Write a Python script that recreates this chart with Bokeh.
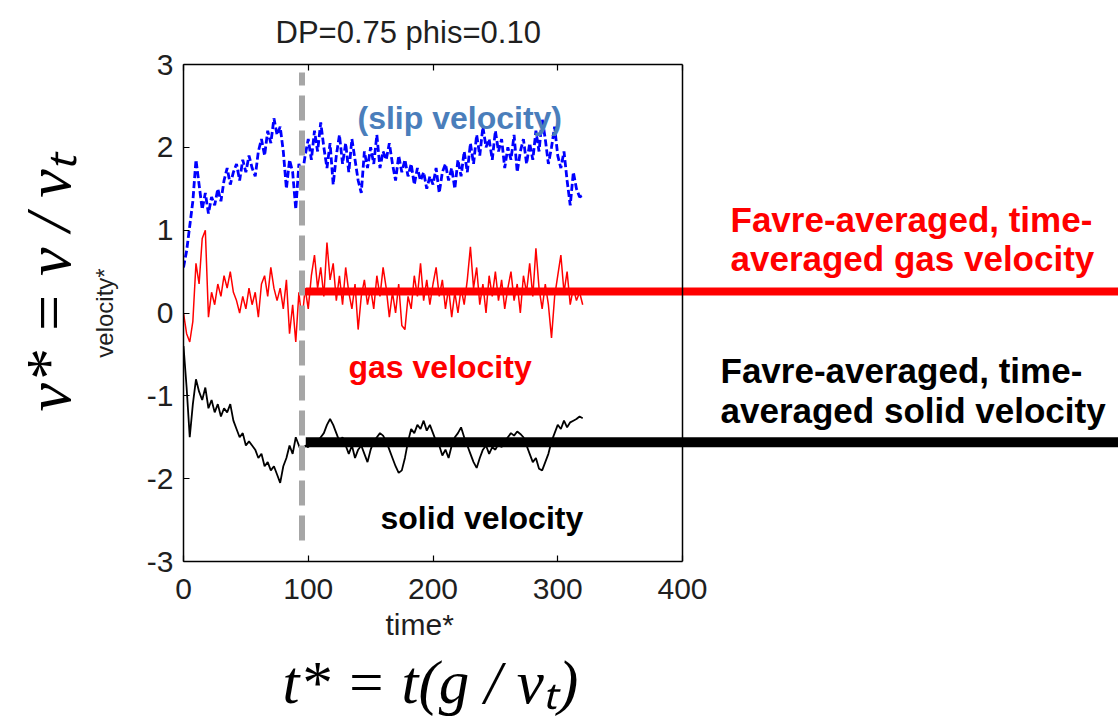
import numpy as np
from bokeh.plotting import figure
from bokeh.models import Range1d, LinearAxis, FixedTicker, Label, Span, Title
from bokeh.embed import file_html
from bokeh.resources import INLINE

# ---------------- data ----------------
time_step = 2.5
slip_velocity = [0.55, 0.75, 1.05, 1.35, 1.85, 1.55, 1.25, 1.45, 1.2, 1.4,
                 1.3, 1.5, 1.35, 1.6, 1.75, 1.55, 1.7, 1.8, 1.6, 1.85,
                 1.7, 1.9, 1.75, 1.65, 1.95, 2.1, 1.9, 2.2, 2.05, 2.35,
                 2.15, 2.25, 1.95, 1.5, 1.85, 1.7, 1.25, 1.8, 1.65, 1.9,
                 2.1, 1.85, 2.2, 1.95, 2.3, 2.0, 1.75, 2.05, 1.55, 1.9,
                 2.15, 1.8, 2.05, 1.7, 2.1, 1.85, 1.6, 1.45, 1.95, 1.75,
                 2.0, 1.8, 2.15, 1.75, 1.95, 1.85, 2.05, 1.8, 1.6, 1.9,
                 1.7, 1.85, 1.65, 1.8, 1.55, 1.75, 1.6, 1.7, 1.5, 1.65,
                 1.55, 1.75, 1.45, 1.7, 1.8, 1.6, 1.75, 1.5, 1.85, 1.65,
                 1.95, 1.7, 2.05, 1.8, 2.15, 1.9, 2.25, 2.0, 2.1, 1.85,
                 2.2, 1.95, 2.1, 1.75, 2.0, 1.85, 2.15, 1.7, 1.95, 2.1,
                 1.8, 2.05, 1.85, 2.2, 1.95, 2.35, 2.1, 1.8, 2.0, 2.25,
                 1.9, 1.75, 1.95, 1.6, 1.3, 1.7, 1.5, 1.4, 1.42]
gas_velocity = [0.0, -0.25, -0.35, -0.1, 0.6, 0.35, 0.9, 1.0, -0.05, 0.25,
                0.1, 0.35, 0.2, 0.45, 0.3, 0.5, 0.25, 0.15, 0.0, 0.2,
                0.05, 0.3, 0.1, 0.25, -0.05, 0.35, 0.45, 0.2, 0.55, 0.3,
                0.15, 0.3, 0.05, 0.4, -0.25, 0.1, -0.35, 0.25, -0.1, 0.3,
                0.05, 0.45, 0.7, 0.3, 0.55, 0.2, 0.85, 0.4, 0.6, 0.15,
                0.45, 0.1, 0.55, 0.25, 0.05, 0.35, -0.2, 0.2, 0.4, 0.1,
                0.3, 0.05, 0.45, 0.2, 0.55, 0.3, -0.05, 0.25, 0.0, 0.35,
                -0.15, -0.2, 0.2, 0.05, 0.45, 0.2, 0.6, 0.15, 0.4, 0.1,
                0.35, 0.55, 0.2, 0.4, 0.05, 0.3, -0.05, 0.25, 0.0, 0.3,
                0.1, 0.4, 0.8, 0.3, 0.55, 0.1, 0.35, 0.0, 0.45, 0.2,
                0.5, 0.15, 0.4, 0.05, 0.3, 0.5, 0.15, 0.35, 0.0, 0.45,
                0.25, 0.6, 0.2, 0.78, 0.3, 0.05, 0.35, 0.1, -0.3, 0.2,
                0.45, 0.7, 0.25, 0.5, 0.1, 0.3, 0.15, 0.25, 0.1]
solid_velocity = [-0.4, -0.9, -1.5, -1.1, -0.8, -0.95, -1.05, -0.9, -1.15, -1.05,
                  -1.2, -1.1, -1.25, -1.15, -1.2, -1.1, -1.3, -1.4, -1.5, -1.45,
                  -1.6, -1.55, -1.6, -1.65, -1.75, -1.7, -1.85, -1.8, -1.9, -1.85,
                  -1.95, -2.05, -1.85, -1.75, -1.6, -1.7, -1.5, -1.6, -1.7, -1.6,
                  -1.62, -1.55, -1.6, -1.55, -1.5, -1.45, -1.35, -1.28, -1.35, -1.45,
                  -1.55, -1.5, -1.6, -1.7, -1.6, -1.75, -1.65, -1.6, -1.7, -1.8,
                  -1.65, -1.55, -1.5, -1.45, -1.48, -1.55, -1.65, -1.75, -1.85, -1.93,
                  -1.9, -1.75, -1.55, -1.4, -1.45, -1.35, -1.4, -1.3, -1.42, -1.35,
                  -1.45, -1.55, -1.6, -1.72, -1.65, -1.75, -1.6, -1.5, -1.45, -1.38,
                  -1.5, -1.6, -1.7, -1.8, -1.87, -1.75, -1.65, -1.6, -1.7, -1.62,
                  -1.65, -1.58, -1.62, -1.55, -1.5, -1.45, -1.48, -1.43, -1.46, -1.5,
                  -1.6, -1.7, -1.8, -1.75, -1.88, -1.9, -1.8, -1.7, -1.55, -1.45,
                  -1.35, -1.4, -1.3, -1.38, -1.32, -1.3, -1.28, -1.25, -1.27]
time = list(np.arange(len(slip_velocity)) * time_step)

gas_mean = 0.26
solid_mean = -1.56
mean_start = 98
transition_time = 95

x_ticks = [0, 100, 200, 300, 400]
y_ticks = [-3, -2, -1, 0, 1, 2, 3]
title_text = "DP=0.75 phis=0.10"
x_label = "time*"
y_label = "velocity*"
v_formula = "v* = v / v\u209c"
t_formula = "t* = t(g / v\u209c)"

# ---------------- layout helpers (page pixels -> data) ----------------
W, H = 1118, 720
FL, FR, FT, FB = 183, 682, 64, 561          # page px of the axes box
XSPAN = 400.0
XEND = XSPAN * (W - FL) / (FR - FL)


def dx(px):
    return (px - FL) * XSPAN / (FR - FL)


def dy(py):
    return 3 - (py - FT) * 6.0 / (FB - FT)


SANS = "Liberation Sans"
SERIF = "Liberation Serif"
TXT = "#1f1f1f"

p = figure(width=W, height=H, x_range=Range1d(0, XEND), y_range=Range1d(-3, 3),
           output_backend="svg", toolbar_location=None,
           min_border_left=FL, min_border_right=0,
           min_border_top=FT, min_border_bottom=H - FB,
           x_axis_type=None, y_axis_type=None)
p.outline_line_color = None
p.grid.visible = False
p.background_fill_color = "white"
p.border_fill_color = "white"

xa = LinearAxis(ticker=FixedTicker(ticks=x_ticks), bounds=(0, 400))
ya = LinearAxis(ticker=FixedTicker(ticks=y_ticks), axis_label=y_label)
ta = LinearAxis(ticker=FixedTicker(ticks=x_ticks), bounds=(0, 400))
for ax in (xa, ya, ta):
    ax.axis_line_width = 1.5
    ax.axis_line_color = "black"
    ax.major_tick_in = 6
    ax.major_tick_out = 0
    ax.major_tick_line_width = 1.2
    ax.minor_tick_line_color = None
    ax.minor_tick_in = 0
    ax.minor_tick_out = 0
    ax.major_label_text_font = SANS
    ax.major_label_text_color = TXT
    ax.major_label_text_font_size = "30px"
    ax.axis_label_text_font = SANS
    ax.axis_label_text_font_style = "normal"
    ax.axis_label_text_color = TXT
xa.major_label_standoff = 17
ya.major_label_standoff = 10
ya.major_label_overrides = {t: str(t) for t in y_ticks}
ya.axis_label_text_font_size = "24px"
ya.axis_label_standoff = 26
ta.major_label_overrides = {t: "" for t in x_ticks}
ta.major_label_text_font_size = "1px"
ta.major_label_standoff = 0
p.add_layout(xa, "below")
p.add_layout(ya, "left")
p.add_layout(ta, "above")

# titles living in the borders
p.add_layout(Title(text=title_text, align="left", offset=275 - FL, standoff=26,
                   vertical_align="top", text_font=SANS, text_font_size="31px",
                   text_font_style="normal", text_color=TXT), "above")
p.add_layout(Title(text=x_label, align="left", offset=385 - FL, standoff=12,
                   vertical_align="top", text_font=SANS, text_font_size="30px",
                   text_font_style="normal", text_color=TXT), "below")
p.add_layout(Title(text=t_formula, align="left", offset=282 - FL, standoff=0,
                   vertical_align="top", text_font=SERIF, text_font_size="61px",
                   text_font_style="italic", text_color="black"), "below")
p.add_layout(Title(text=v_formula, align="left", offset=FB - 411, standoff=8,
                   text_font=SERIF, text_font_size="64px",
                   text_font_style="italic", text_color="black"), "left")

p.add_layout(Span(location=400, dimension="height", line_color="black", line_width=1.5))

# series
p.line(time, slip_velocity, line_color="#0000ff", line_width=2.8, line_dash="7 3")
p.line(time, gas_velocity, line_color="#ff0000", line_width=1.5)
p.line(time, solid_velocity, line_color="black", line_width=1.8)

# transition marker
p.segment(x0=[transition_time], y0=[dy(540)], x1=[transition_time], y1=[dy(72)],
          line_color="#a6a6a6", line_width=6, line_dash="25 10")

# averaged lines
p.line([mean_start, XEND], [gas_mean, gas_mean], line_color="#ff0000", line_width=8)
p.line([mean_start, XEND], [solid_mean, solid_mean], line_color="black", line_width=10)


def lab(text, px, py, size, color=TXT, style="bold"):
    p.add_layout(Label(x=dx(px), y=dy(py), text=text, text_font=SANS,
                       text_font_size=f"{size}px", text_font_style=style,
                       text_color=color, text_align="left", text_baseline="alphabetic"))


lab("(slip velocity)", 357, 117, 32, color="#4a7ebb")
lab("gas velocity", 348, 366, 32, color="#ff0000")
lab("solid velocity", 380, 517, 32, color="black")
lab("Favre-averaged, time-", 730, 219, 35, color="#ff0000")
lab("averaged gas velocity", 730, 258, 35, color="#ff0000")
lab("Favre-averaged, time-", 720, 370, 35, color="black")
lab("averaged solid velocity", 720, 410, 35, color="black")

open("out.html", "w").write(file_html(p, INLINE))
